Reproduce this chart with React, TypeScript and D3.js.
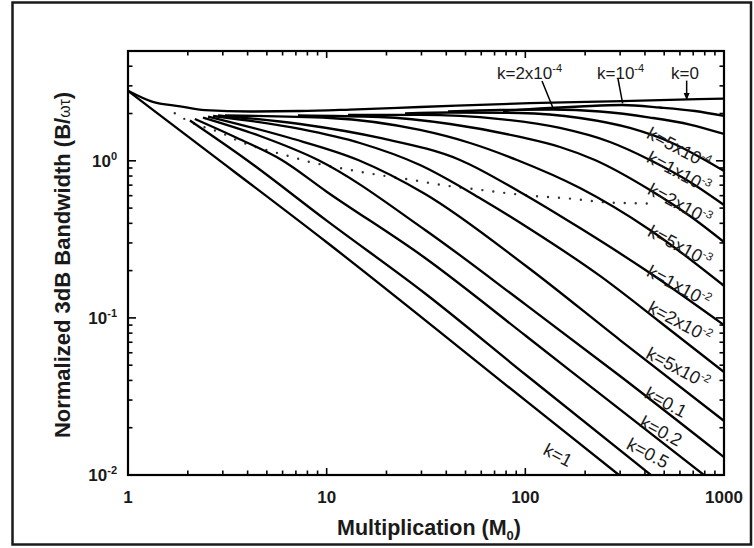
import React, { useEffect, useRef } from 'react';
import * as d3 from 'd3';

// each curve: [M0, B/wt] points
const curveK0: [number, number][] = [[1, 2.79], [1.32, 2.38], [1.83, 2.22], [2.44, 2.10], [4.11, 2.06], [7.34, 2.075], [13.1, 2.12], [29.5, 2.20], [105.5, 2.33], [306.6, 2.40], [1000, 2.49]];
const curveK1e4: [number, number][] = [[77.2, 2.075], [118.5, 2.152], [188.4, 2.216], [306.6, 2.266], [476, 2.184], [714.5, 2.075], [1000, 1.929]];
const curveK2e4: [number, number][] = [[40.8, 2.06], [74.6, 2.106], [137.8, 2.121], [237.6, 2.06], [424, 1.886], [674, 1.702], [1000, 1.481]];
const curveK5e4: [number, number][] = [[24.8, 2.0], [41.8, 2.03], [94.0, 2.015], [188.4, 1.873], [336, 1.618], [535, 1.317], [802, 1.012], [1000, 0.861]];
const curveK1e3: [number, number][] = [[12.8, 1.957], [29.5, 1.96], [74.6, 1.845], [149.4, 1.618], [266.8, 1.317], [424, 1.012], [674, 0.733], [1000, 0.523]];
const curveK2e3: [number, number][] = [[7.17, 1.943], [18.55, 1.9], [41.8, 1.715], [94.0, 1.418], [149.4, 1.224], [224, 1.012], [424, 0.652], [674, 0.445], [1000, 0.304]];
const curveK5e3: [number, number][] = [[3.08, 1.943], [10.4, 1.873], [29.5, 1.571], [52.7, 1.298], [90.8, 1.012], [188.4, 0.671], [424, 0.363], [1000, 0.16]];
const curveK1e2: [number, number][] = [[2.84, 1.943], [7.34, 1.715], [18.55, 1.397], [46.9, 1.012], [94.0, 0.633], [188.4, 0.373], [424, 0.193], [1000, 0.09]];
const curveK2e2: [number, number][] = [[2.68, 1.929], [7.34, 1.594], [14.7, 1.298], [29.5, 0.94], [61.2, 0.563], [105.5, 0.368], [237.6, 0.185], [476, 0.0942], [1000, 0.0452]];
const curveK5e2: [number, number][] = [[2.53, 1.914], [6.54, 1.397], [14.4, 1.012], [31.3, 0.615], [100.8, 0.214], [299.6, 0.0723], [1000, 0.0221]];
const curveK01: [number, number][] = [[2.385, 1.886], [4.62, 1.439], [9.05, 1.012], [31.3, 0.363], [100.8, 0.121], [299.6, 0.0427], [1000, 0.013]];
const curveK02: [number, number][] = [[2.17, 1.845], [3.54, 1.397], [5.94, 1.012], [10.0, 0.636], [31.3, 0.2405], [100.8, 0.0767], [237.6, 0.0328], [793, 0.01]];
const curveK05: [number, number][] = [[2.05, 1.805], [3.96, 1.012], [10.0, 0.416], [31.3, 0.143], [100.8, 0.0433], [429, 0.01]];
const curveK1: [number, number][] = [[1, 2.79], [2, 1.43], [10.0, 0.303], [100.8, 0.0296], [296, 0.01]];

// dotted boundary line
const dottedLine: [number, number][] = [[1.72, 2.01], [1.98, 1.81], [2.97, 1.5], [3.75, 1.31], [4.26, 1.24], [6.31, 1.08], [8.05, 0.99], [11.9, 0.895], [17.5, 0.82], [25.7, 0.762], [42.7, 0.687], [62.7, 0.648], [81.7, 0.621], [118, 0.593], [162, 0.577], [261, 0.543], [424, 0.535]];

const allCurves = [curveK0, curveK1e4, curveK2e4, curveK5e4, curveK1e3, curveK2e3, curveK5e3, curveK1e2, curveK2e2, curveK5e2, curveK01, curveK02, curveK05, curveK1];

// slanted labels, anchored in data coords
const slantLabels = [
  { base: 'k=5x10', exp: '-4', M: 593, B: 1.206 },
  { base: 'k=1x10', exp: '-3', M: 593, B: 0.849 },
  { base: 'k=2x10', exp: '-3', M: 600, B: 0.531 },
  { base: 'k=5x10', exp: '-3', M: 600, B: 0.287 },
  { base: 'k=1x10', exp: '-2', M: 593, B: 0.1596 },
  { base: 'k=2x10', exp: '-2', M: 600, B: 0.0942 },
  { base: 'k=5x10', exp: '-2', M: 587, B: 0.048 },
  { base: 'k=0.1', exp: '', M: 510, B: 0.0291 },
  { base: 'k=0.2', exp: '', M: 482, B: 0.0191 },
  { base: 'k=0.5', exp: '', M: 414, B: 0.0138 },
  { base: 'k=1', exp: '', M: 146, B: 0.0134 },
];

// upright labels with pointer lines
const topLabels = [
  { base: 'k=2x10', exp: '-4', M: 72, B: 3.32, from: [121.3, 3.22], to: [137.8, 2.17], arrow: false },
  { base: 'k=10', exp: '-4', M: 229.5, B: 3.32, from: [292.7, 3.32], to: [309, 2.32], arrow: false },
  { base: 'k=0', exp: '', M: 541, B: 3.32, from: [648.7, 3.24], to: [648.7, 2.44], arrow: true },
];

const xTickLabels = [1, 10, 100, 1000];
const yTickLabels = [{ v: 0.01, exp: '-2' }, { v: 0.1, exp: '-1' }, { v: 1, exp: '0' }];

const FONT = "Arial, 'Liberation Sans', Helvetica, sans-serif";

export default function App() {
  const ref = useRef<SVGSVGElement>(null);

  useEffect(() => {
    const svg = d3.select(ref.current);
    svg.selectAll('*').remove();

    const left = 128, right = 724, top = 51, bottom = 475;
    const x = d3.scaleLog().domain([1, 1000]).range([left, right]);
    const y = d3.scaleLog().domain([0.01, 5]).range([bottom, top]);

    // outer frame
    svg.append('rect')
      .attr('x', 12.5).attr('y', 2.5).attr('width', 738.5).attr('height', 542)
      .attr('fill', 'white').attr('stroke', '#1a1a1a').attr('stroke-width', 2.5);

    svg.append('clipPath').attr('id', 'plotclip')
      .append('rect').attr('x', left).attr('y', top).attr('width', right - left).attr('height', bottom - top);

    const g = svg.append('g');

    const line = d3.line<[number, number]>()
      .x(d => x(d[0]))
      .y(d => y(d[1]))
      .curve(d3.curveMonotoneX);

    // dotted line
    g.append('path')
      .attr('d', line(dottedLine))
      .attr('fill', 'none')
      .attr('stroke', '#333')
      .attr('stroke-width', 2.4)
      .attr('stroke-linecap', 'round')
      .attr('stroke-dasharray', '0 11')
      .attr('clip-path', 'url(#plotclip)');

    // curves
    g.selectAll('path.curve')
      .data(allCurves)
      .enter()
      .append('path')
      .attr('class', 'curve')
      .attr('d', d => line(d))
      .attr('fill', 'none')
      .attr('stroke', '#000')
      .attr('stroke-width', 2.3)
      .attr('stroke-linejoin', 'round')
      .attr('clip-path', 'url(#plotclip)');

    // ticks (inward, all four sides)
    const xTicks: { v: number; major: boolean }[] = [];
    [1, 10, 100].forEach(d => { for (let m = 1; m <= 9; m++) xTicks.push({ v: d * m, major: m === 1 }); });
    xTicks.push({ v: 1000, major: true });
    const yTicks: { v: number; major: boolean }[] = [];
    [0.01, 0.1, 1].forEach(d => { for (let m = 1; m <= 9; m++) if (d * m <= 5.0001) yTicks.push({ v: d * m, major: m === 1 }); });

    const tk = g.append('g').attr('stroke', '#000').attr('stroke-width', 1.6);
    xTicks.forEach(t => {
      const len = t.major ? 7 : 4.5;
      const px = x(t.v);
      tk.append('line').attr('x1', px).attr('x2', px).attr('y1', bottom).attr('y2', bottom - len);
      tk.append('line').attr('x1', px).attr('x2', px).attr('y1', top).attr('y2', top + len);
    });
    yTicks.forEach(t => {
      const len = t.major ? 8 : 4.5;
      const py = y(t.v);
      tk.append('line').attr('x1', left).attr('x2', left + len).attr('y1', py).attr('y2', py);
      tk.append('line').attr('x1', right).attr('x2', right - len).attr('y1', py).attr('y2', py);
    });

    // plot frame
    g.append('rect')
      .attr('x', left).attr('y', top).attr('width', right - left).attr('height', bottom - top)
      .attr('fill', 'none').attr('stroke', '#000').attr('stroke-width', 2.2);

    // tick labels
    g.selectAll('text.xt')
      .data(xTickLabels)
      .enter()
      .append('text')
      .attr('class', 'xt')
      .attr('x', d => x(d))
      .attr('y', 503)
      .attr('text-anchor', 'middle')
      .attr('font-family', FONT)
      .attr('font-weight', 'bold')
      .attr('font-size', 17)
      .attr('fill', '#1a1a1a')
      .text(d => String(d));

    yTickLabels.forEach(t => {
      const txt = g.append('text')
        .attr('x', 117)
        .attr('y', y(t.v) + 6)
        .attr('text-anchor', 'end')
        .attr('font-family', FONT)
        .attr('font-weight', 'bold')
        .attr('font-size', 17)
        .attr('fill', '#1a1a1a');
      txt.append('tspan').text('10');
      txt.append('tspan').attr('dy', -7).attr('font-size', 11).text(t.exp);
    });

    // axis titles
    const xt = g.append('text')
      .attr('x', 429)
      .attr('y', 535)
      .attr('text-anchor', 'middle')
      .attr('font-family', FONT)
      .attr('font-weight', 'bold')
      .attr('font-size', 21.5)
      .attr('fill', '#1a1a1a');
    xt.append('tspan').text('Multiplication (M');
    xt.append('tspan').attr('dy', 5).attr('font-size', 13).text('0');
    xt.append('tspan').attr('dy', -5).text(')');

    const yt = g.append('text')
      .attr('transform', 'translate(70,265) rotate(-90)')
      .attr('text-anchor', 'middle')
      .attr('font-family', FONT)
      .attr('font-weight', 'bold')
      .attr('font-size', 22)
      .attr('fill', '#1a1a1a');
    yt.append('tspan').text('Normalized 3dB Bandwidth (B/');
    yt.append('tspan').attr('font-size', 16).attr('font-weight', 'normal').text('ωτ');
    yt.append('tspan').text(')');

    // slanted curve labels
    slantLabels.forEach(l => {
      const txt = g.append('text')
        .attr('transform', `translate(${x(l.M)},${y(l.B)}) rotate(28)`)
        .attr('text-anchor', 'middle')
        .attr('dy', '0.35em')
        .attr('font-family', FONT)
        .attr('font-size', 18)
        .attr('fill', '#1a1a1a');
      txt.append('tspan').text(l.base);
      if (l.exp) txt.append('tspan').attr('dy', -7).attr('font-size', 11.5).text(l.exp);
    });

    // upright labels + pointers
    topLabels.forEach(l => {
      const txt = g.append('text')
        .attr('x', x(l.M))
        .attr('y', y(l.B))
        .attr('font-family', FONT)
        .attr('font-size', 17)
        .attr('fill', '#1a1a1a');
      txt.append('tspan').text(l.base);
      if (l.exp) txt.append('tspan').attr('dy', -7).attr('font-size', 11).text(l.exp);
      g.append('line')
        .attr('x1', x(l.from[0])).attr('y1', y(l.from[1]))
        .attr('x2', x(l.to[0])).attr('y2', y(l.to[1]))
        .attr('stroke', '#000').attr('stroke-width', 1.5);
      if (l.arrow) {
        const ax = x(l.to[0]), ay = y(l.to[1]);
        g.append('path')
          .attr('d', `M${ax - 3},${ay - 7}L${ax + 3},${ay - 7}L${ax},${ay}Z`)
          .attr('fill', '#000');
      }
    });
  }, []);

  return (
    <svg
      ref={ref}
      width={754}
      height={548}
      style={{ position: 'absolute', left: 0, top: 0, background: '#fff' }}
    />
  );
}
